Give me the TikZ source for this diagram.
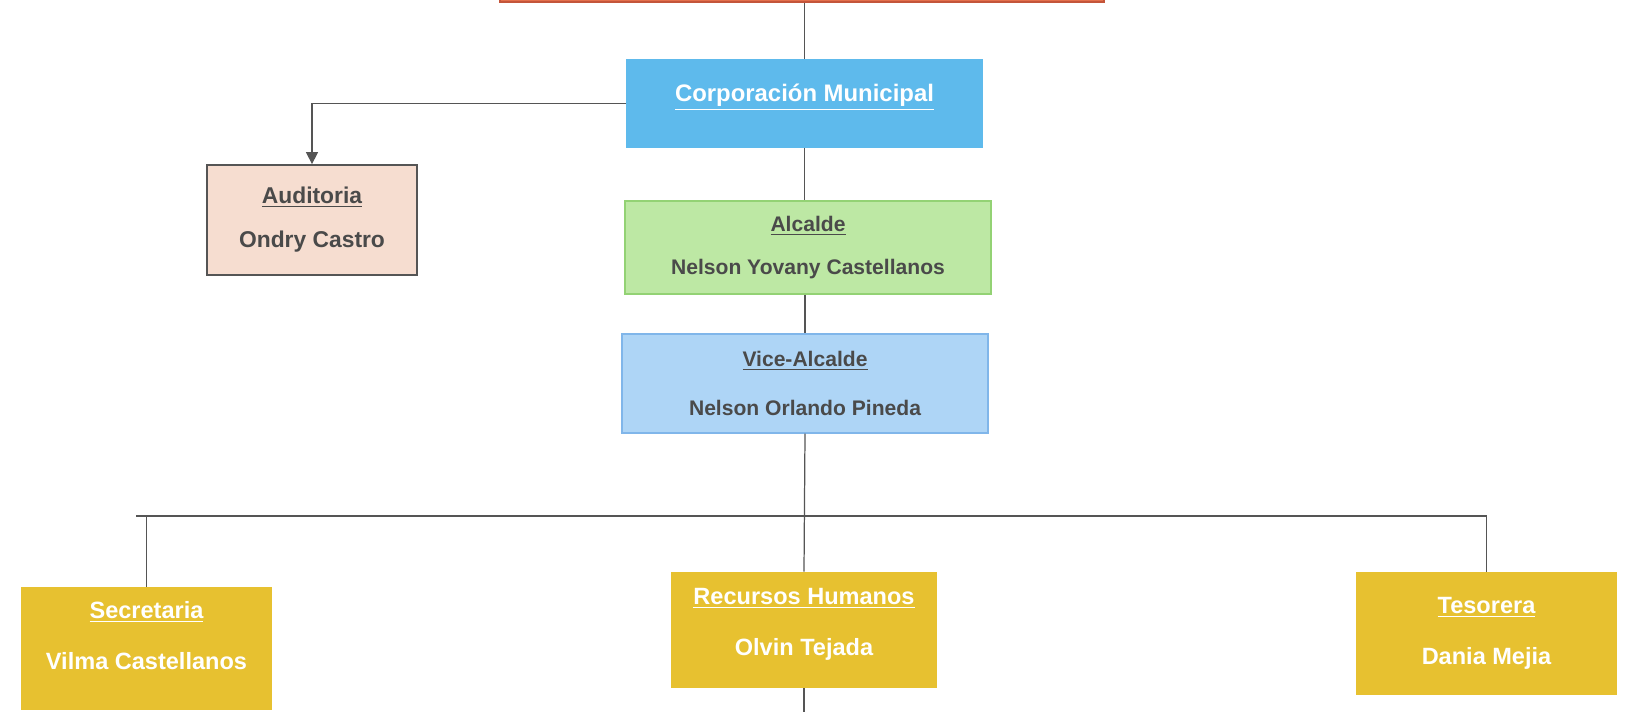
\documentclass[tikz,border=0pt]{standalone}
\usepackage{fontspec}
\setmainfont{Liberation Sans}
\usetikzlibrary{arrows.meta}
\newcommand{\pxu}{0.02cm}

\definecolor{naranja}{HTML}{E3704C}
\definecolor{naranjaborde}{HTML}{C4553A}
\definecolor{celeste}{HTML}{5EBAEC}
\definecolor{durazno}{HTML}{F6DDD0}
\definecolor{verde}{HTML}{BDE8A4}
\definecolor{verdeborde}{HTML}{93D274}
\definecolor{azulclaro}{HTML}{AED5F6}
\definecolor{azulborde}{HTML}{80B6EA}
\definecolor{amarillo}{HTML}{E7C130}
\definecolor{gristexto}{HTML}{4A4A4A}
\definecolor{grislinea}{HTML}{555555}

\begin{document}
\begin{tikzpicture}[x=\pxu, y=-\pxu,
    rect/.style={rectangle, inner sep=0pt, align=center, font=\bfseries\fontsize{13.4}{29}\selectfont},
    cabeza/.style={rect, fill=naranja, draw=naranjaborde, line width=1pt},
    corp/.style={rect, fill=celeste, text=white, font=\bfseries\fontsize{13.6}{16}\selectfont},
    audit/.style={rect, fill=durazno, draw=grislinea, line width=1pt, text=gristexto, font=\bfseries\fontsize{13}{25}\selectfont},
    jefe/.style={rect, text=gristexto, line width=0.6pt},
    oficina/.style={rect, fill=amarillo, text=white},
    conn/.style={draw=grislinea, line width=0.7pt}]
    \useasboundingbox (0,0) rectangle (1626,712);
    \fill[white] (0,0) rectangle (1626,712);

    % Top
    \node[cabeza, minimum width=604*\pxu, minimum height=14*\pxu, anchor=south] (top) at (802,3) {};
    \node[corp, minimum width=357*\pxu, minimum height=89*\pxu] (corp) at (804.5,103.5) {\underline{Corporación Municipal}\\[-10pt]\strut};
    \node[audit, minimum width=210*\pxu, minimum height=110*\pxu] (auditoria) at (312,220) {\underline{Auditoria}\\Ondry Castro};

    % Middle
    \node[jefe, fill=verde, draw=verdeborde, font=\bfseries\fontsize{12}{24}\selectfont, minimum width=366*\pxu, minimum height=93*\pxu] (alcalde) at (808,247.5) {\underline{Alcalde}\\Nelson Yovany Castellanos};
    \node[jefe, fill=azulclaro, draw=azulborde, font=\bfseries\fontsize{12}{28}\selectfont, minimum width=366*\pxu, minimum height=99*\pxu] (vice) at (805,383.5) {\underline{Vice-Alcalde}\\Nelson Orlando Pineda};

    % Bottom row
    \node[oficina, minimum width=251*\pxu, minimum height=123*\pxu] (secre) at (146.5,648.5) {\underline{Secretaria}\\Vilma Castellanos\\[-14pt]\mbox{}};
    \node[oficina, minimum width=266*\pxu, minimum height=116*\pxu] (rrhh) at (804,630) {\underline{Recursos Humanos}\\Olvin Tejada\\[-20pt]\mbox{}};
    \node[oficina, minimum width=261*\pxu, minimum height=123*\pxu] (teso) at (1486.5,633.5) {\underline{Tesorera}\\Dania Mejia};

    \coordinate (bus) at (804,516);
    \coordinate (buswest) at (136,516);
    \coordinate (fin) at (804,712);

    % Connectors
    \draw[conn] (corp.north) -- (corp.north |- top.south);
    \draw[conn, -{Triangle[width=0.24cm, length=0.24cm]}] (corp.west) -| (auditoria.north);
    \draw[conn] (corp.south) -- (corp.south |- alcalde.north);
    \draw[conn] (vice.north |- alcalde.south) -- (vice.north);
    \draw[conn] (vice.south) -- (rrhh.north);
    \draw[conn] (buswest) -- (bus) -| (teso.north);
    \draw[conn] (secre.north) -- (secre.north |- buswest);
    \draw[conn] (rrhh.south) -- (fin);

\end{tikzpicture}
\end{document}
